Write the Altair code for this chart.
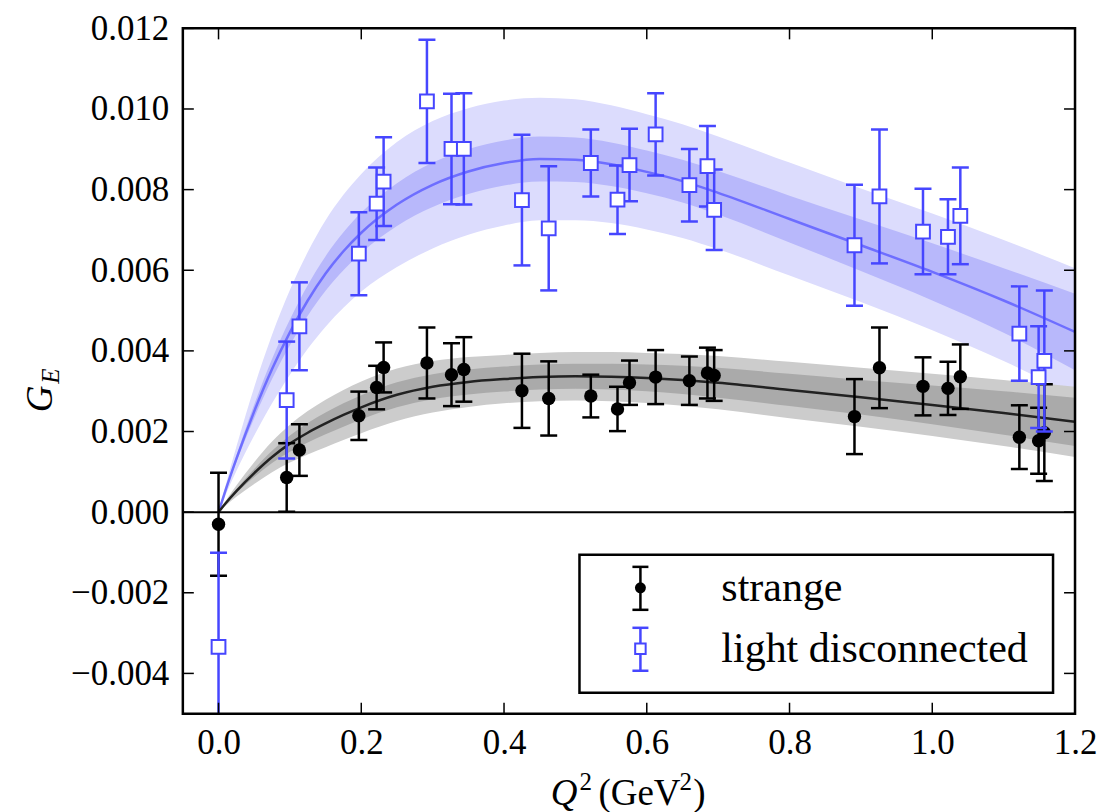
import altair as alt
import pandas as pd

# ---------------- data ----------------
q2 = [0.0, 0.0955, 0.1133, 0.1966, 0.2215, 0.2313, 0.292, 0.3264, 0.3437, 0.4251,
      0.4626, 0.5216, 0.559, 0.5758, 0.6124, 0.6597, 0.685, 0.6944, 0.891, 0.926,
      0.987, 1.022, 1.0393, 1.122, 1.149, 1.157]

strange_val = [-0.0003, 0.00086, 0.00154, 0.00239, 0.00309, 0.00359, 0.0037, 0.00341, 0.00354, 0.00301,
               0.00282, 0.00288, 0.00256, 0.00321, 0.00335, 0.00326, 0.00345, 0.00339, 0.00237, 0.00358,
               0.00312, 0.00307, 0.00336, 0.00186, 0.00177, 0.00197]
strange_err = [0.00128, 0.00085, 0.00064, 0.0006, 0.00054, 0.00062, 0.00088, 0.00078, 0.0008, 0.00092,
               0.00092, 0.00053, 0.00055, 0.00055, 0.00067, 0.0006, 0.00063, 0.00063, 0.00093, 0.001,
               0.00072, 0.00066, 0.0008, 0.00079, 0.00082, 0.0012]

light_val = [-0.00334, 0.00278, 0.00461, 0.00641, 0.00765, 0.0082, 0.01019, 0.00901, 0.00901, 0.00774,
             0.00704, 0.00866, 0.00775, 0.00861, 0.00937, 0.00811, 0.00858, 0.0075, 0.00662, 0.00783,
             0.00696, 0.00683, 0.00735, 0.00443, 0.00335, 0.00375]
light_err = [0.00233, 0.00145, 0.00109, 0.00103, 0.0009, 0.0011, 0.00153, 0.00137, 0.00138, 0.00162,
             0.00154, 0.00083, 0.00085, 0.0009, 0.00102, 0.0009, 0.001, 0.001, 0.0015, 0.00166,
             0.00106, 0.00093, 0.0012, 0.00117, 0.00126, 0.00175]

q_fit = [0, .01, .025, .05, .075, .1, .125, .15, .175, .2, .25, .3, .35, .4, .45, .5,
         .55, .6, .65, .7, .8, .9, 1.0, 1.1, 1.2]

light_fit = [0, .00055, .00132, .0025, .00355, .00446, .00525, .00592, .00647, .00693, .00763, .00812, .00845,
             .00866, .00876, .00874, .00863, .00844, .00821, .00792, .00727, .00662, .00596, .00525, .00447]
light_in_w = [0, .00003, .00008, .00017, .00025, .00032, .00038, .00043, .00047, .0005, .00053, .00055, .00056,
              .00056, .00056, .00055, .00054, .00053, .00053, .00054, .00058, .00064, .00071, .0008, .00095]
light_out_w = [0, .00012, .0003, .0006, .00085, .00105, .0012, .00132, .0014, .00146, .00155, .00158, .00157,
               .00155, .00152, .0015, .00146, .00143, .00141, .0014, .0014, .00141, .00145, .0015, .00158]

strange_fit = [0, .00022, .00052, .00097, .00137, .0017, .00197, .0022, .00241, .0026, .00291, .00311, .00323,
               .0033, .00335, .00337, .00336, .00333, .00328, .00321, .00303, .00285, .00266, .00246, .00224]
strange_in_w = [0, .00002, .00005, .0001, .00015, .0002, .00024, .00027, .00029, .0003, .00031, .00031, .00031,
                .00031, .00031, .00031, .00032, .00033, .00035, .00037, .0004, .00043, .00048, .00054, .0006]
strange_out_w = [0, .00006, .00014, .00027, .00038, .00047, .00054, .00059, .00062, .00064, .00065, .00064, .00062,
                 .0006, .0006, .0006, .00061, .00062, .00064, .00066, .0007, .00073, .00077, .00082, .00087]

x_ticks = [0.0, 0.2, 0.4, 0.6, 0.8, 1.0, 1.2]
y_ticks = [-0.004, -0.002, 0.0, 0.002, 0.004, 0.006, 0.008, 0.010, 0.012]

legend_labels = ["strange", "light disconnected"]

# ---------------- style ----------------
W, H = 893, 686
FONT = "Liberation Serif"
BLUE = "#4646ff"
BLUE_LINE = "#6e6eff"
BLUE_OUT = "#dcdcfd"
BLUE_IN = "#b8b8fb"
GRAY_OUT = "#cccccc"
GRAY_IN = "#aaaaaa"

xs = alt.Scale(domain=[-0.05, 1.2], range=[0, W], nice=False, zero=False, padding=0)
ys = alt.Scale(domain=[-0.005, 0.012], range=[H, 0], nice=False, zero=False, padding=0)

x_axis = alt.Axis(values=x_ticks, format=".1f", ticks=False, domain=False, grid=False, labelFlush=False,
                  labelBound=False, labelFont=FONT, labelFontSize=35, labelColor="black", labelPadding=12,
                  title=None)
y_axis = alt.Axis(values=y_ticks, format=".3f", ticks=False, domain=False, grid=False, labelFlush=False,
                  labelBound=False, labelExpr="replace(datum.label, '-', '\u2212')",
                  labelFont=FONT, labelFontSize=35, labelColor="black", labelPadding=14, title=None)


def X(f):
    return alt.X(f + ":Q", scale=xs, axis=x_axis)


def Y(f):
    return alt.Y(f + ":Q", scale=ys, axis=y_axis)


def add_sub(a, b, sign):
    return [u + sign * w for u, w in zip(a, b)]


pts_s = pd.DataFrame({"q2": q2, "v": strange_val,
                      "lo": add_sub(strange_val, strange_err, -1),
                      "hi": add_sub(strange_val, strange_err, 1)})
pts_l = pd.DataFrame({"q2": q2, "v": light_val,
                      "lo": add_sub(light_val, light_err, -1),
                      "hi": add_sub(light_val, light_err, 1)})
fit = pd.DataFrame({"q": q_fit,
                    "lf": light_fit,
                    "lil": add_sub(light_fit, light_in_w, -1), "lih": add_sub(light_fit, light_in_w, 1),
                    "lol": add_sub(light_fit, light_out_w, -1), "loh": add_sub(light_fit, light_out_w, 1),
                    "sf": strange_fit,
                    "sil": add_sub(strange_fit, strange_in_w, -1), "sih": add_sub(strange_fit, strange_in_w, 1),
                    "sol": add_sub(strange_fit, strange_out_w, -1), "soh": add_sub(strange_fit, strange_out_w, 1)})
xt = pd.DataFrame({"t": x_ticks})
yt = pd.DataFrame({"t": y_ticks})
one = pd.DataFrame({"k": [0]})


def band(lo, hi, color):
    return alt.Chart(fit).mark_area(color=color, interpolate="monotone", clip=True).encode(
        x=X("q"), y=Y(lo), y2=hi + ":Q")


def curve(col, color):
    return alt.Chart(fit).mark_line(color=color, strokeWidth=2.5, interpolate="monotone", clip=True).encode(
        x=X("q"), y=Y(col))


def errbars(df, color):
    bars = alt.Chart(df).mark_rule(color=color, strokeWidth=2.5, clip=True).encode(
        x=X("q2"), y=Y("lo"), y2="hi:Q")
    cap_lo = alt.Chart(df).mark_rule(color=color, strokeWidth=2.5, xOffset=-8.5, x2Offset=8.5,
                                     clip=True).encode(x=X("q2"), x2="q2:Q", y=Y("lo"))
    cap_hi = alt.Chart(df).mark_rule(color=color, strokeWidth=2.5, xOffset=-8.5, x2Offset=8.5,
                                     clip=True).encode(x=X("q2"), x2="q2:Q", y=Y("hi"))
    return bars + cap_lo + cap_hi


zero_line = alt.Chart(one).mark_rule(color="black", strokeWidth=2).encode(y=alt.datum(0, scale=ys, axis=y_axis))

s_pts = alt.Chart(pts_s).mark_point(shape="circle", filled=True, color="black", size=180, opacity=1).encode(
    x=X("q2"), y=Y("v"))
l_pts = alt.Chart(pts_l).mark_point(shape="square", filled=True, fill="white", stroke=BLUE,
                                    strokeWidth=2, size=190, opacity=1).encode(x=X("q2"), y=Y("v"))

TL = 11
ticks = (
    alt.Chart(yt).mark_rule(color="black", strokeWidth=1.5).encode(
        x=alt.value(0), x2=alt.value(TL), y=Y("t"))
    + alt.Chart(yt).mark_rule(color="black", strokeWidth=1.5).encode(
        x=alt.value(W - TL), x2=alt.value(W), y=Y("t"))
    + alt.Chart(xt).mark_rule(color="black", strokeWidth=1.5).encode(
        y=alt.value(H - TL), y2=alt.value(H), x=X("t"))
    + alt.Chart(xt).mark_rule(color="black", strokeWidth=1.5).encode(
        y=alt.value(0), y2=alt.value(TL), x=X("t"))
)

frame = alt.Chart(one).mark_rect(filled=False, stroke="black", strokeWidth=2.5).encode(
    x=alt.value(0), x2=alt.value(W), y=alt.value(0), y2=alt.value(H))


def txt(s, x, y, size=36, style="normal", align="left", angle=0):
    return alt.Chart(one).mark_text(text=s, font=FONT, fontSize=size, fontStyle=style, angle=angle,
                                    align=align, baseline="alphabetic").encode(x=alt.value(x), y=alt.value(y))


# axis titles
ytitle = (
    alt.Chart(one).mark_text(text="G", font=FONT, fontSize=37, fontStyle="italic", angle=270,
                             align="center", baseline="middle").encode(x=alt.value(-142), y=alt.value(371))
    + alt.Chart(one).mark_text(text="E", font=FONT, fontSize=25, fontStyle="italic", angle=270,
                               align="center", baseline="middle").encode(x=alt.value(-132), y=alt.value(348))
)
xtitle = (
    txt("Q", 395, 777, 37, "italic", "right")
    + txt("2", 397, 762, 25)
    + txt("(GeV", 416, 777, 37)
    + txt("2", 497, 762, 25)
    + txt(")", 511, 777, 37)
)

# legend
LX = 458
legend = (
    alt.Chart(one).mark_rect(fill="white", stroke="black", strokeWidth=2.5).encode(
        x=alt.value(397), x2=alt.value(871), y=alt.value(527), y2=alt.value(665))
    + alt.Chart(one).mark_rule(color="black", strokeWidth=2.5).encode(
        x=alt.value(LX), y=alt.value(539), y2=alt.value(582))
    + alt.Chart(one).mark_rule(color="black", strokeWidth=2.5).encode(
        x=alt.value(LX - 8), x2=alt.value(LX + 8), y=alt.value(539))
    + alt.Chart(one).mark_rule(color="black", strokeWidth=2.5).encode(
        x=alt.value(LX - 8), x2=alt.value(LX + 8), y=alt.value(582))
    + alt.Chart(one).mark_point(shape="circle", filled=True, color="black", size=120, opacity=1).encode(
        x=alt.value(LX), y=alt.value(560))
    + alt.Chart(one).mark_rule(color=BLUE, strokeWidth=2.5).encode(
        x=alt.value(LX), y=alt.value(600), y2=alt.value(643))
    + alt.Chart(one).mark_rule(color=BLUE, strokeWidth=2.5).encode(
        x=alt.value(LX - 8), x2=alt.value(LX + 8), y=alt.value(600))
    + alt.Chart(one).mark_rule(color=BLUE, strokeWidth=2.5).encode(
        x=alt.value(LX - 8), x2=alt.value(LX + 8), y=alt.value(643))
    + alt.Chart(one).mark_point(shape="square", filled=True, fill="white", stroke=BLUE, strokeWidth=2,
                                size=110, opacity=1).encode(x=alt.value(LX), y=alt.value(621))
    + txt(legend_labels[0], 539, 573, 42)
    + txt(legend_labels[1], 539, 634, 42)
)

chart = alt.layer(
    band("lol", "loh", BLUE_OUT), band("lil", "lih", BLUE_IN),
    band("sol", "soh", GRAY_OUT), band("sil", "sih", GRAY_IN),
    curve("lf", BLUE_LINE), curve("sf", "#222222"),
    zero_line,
    errbars(pts_s, "black"), s_pts,
    errbars(pts_l, BLUE), l_pts,
    ticks, legend, frame, ytitle, xtitle,
).properties(
    width=W, height=H,
    padding={"left": 175, "top": 20, "right": 25, "bottom": 104},
    autosize=alt.AutoSizeParams(type="none"),
).configure_view(stroke=None)

chart.save("out.html", embed_options={"renderer": "svg", "actions": False})
